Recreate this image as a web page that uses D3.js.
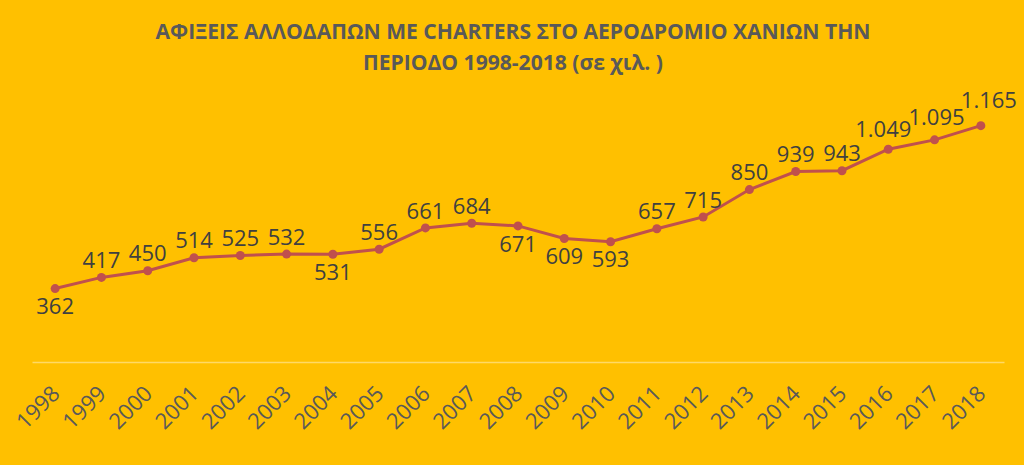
<!DOCTYPE html>
<html>
<head>
<meta charset="utf-8">
<script src="https://cdn.jsdelivr.net/npm/d3@7"></script>
<style>
html,body{margin:0;padding:0;background:#FFC000;}
svg{display:block;}
</style>
</head>
<body>
<svg id="chart" width="1024" height="465"></svg>
<script>
const years = ["1998","1999","2000","2001","2002","2003","2004","2005","2006","2007","2008","2009","2010","2011","2012","2013","2014","2015","2016","2017","2018"];
const arrivals = [362,417,450,514,525,532,531,556,661,684,671,609,593,657,715,850,939,943,1049,1095,1165];
const labelBelow = ["1998","2004","2008","2009","2010"];
const titleLines = ["ΑΦΙΞΕΙΣ ΑΛΛΟΔΑΠΩΝ ΜΕ CHARTERS ΣΤΟ ΑΕΡΟΔΡΟΜΙΟ ΧΑΝΙΩΝ ΤΗΝ","ΠΕΡΙΟΔΟ 1998-2018 (σε χιλ. )"];

const svg = d3.select("#chart");
const W = 1024, H = 465;
svg.append("rect").attr("width", W).attr("height", H).attr("fill", "#FFC000");

const x = d3.scaleBand().domain(years).range([32, 1004]).padding(0);
const y = d3.scaleLinear().domain([0, 1400]).range([362, 78]);
const cx = d => x(d) + x.bandwidth() / 2;

// title
const titleW = [715, 300];
const titleY = [39, 70];
svg.selectAll("text.title").data(titleLines).join("text")
  .attr("class", "title")
  .attr("x", 513)
  .attr("y", (d, i) => titleY[i])
  .attr("text-anchor", "middle")
  .attr("font-family", "'Open Sans', sans-serif")
  .attr("font-weight", "bold")
  .attr("font-size", 21)
  .attr("fill", "#595959")
  .attr("textLength", (d, i) => titleW[i])
  .attr("lengthAdjust", "spacingAndGlyphs")
  .text(d => d);

// axis
const xAxis = d3.axisBottom(x).tickSize(0).tickPadding(0);
const gx = svg.append("g").attr("transform", `translate(0,${y(0)})`).call(xAxis);
gx.select(".domain").attr("stroke", "#FFD966").attr("stroke-width", 1.5);
gx.selectAll(".tick text")
  .attr("font-family", "'Open Sans', sans-serif")
  .attr("font-size", 22)
  .attr("fill", "#595959")
  .attr("text-anchor", "end")
  .attr("dy", 0)
  .attr("y", 0)
  .attr("transform", "translate(6,33) rotate(-45)");

// line
const data = years.map((yr, i) => ({yr, v: arrivals[i]}));
const line = d3.line().x(d => cx(d.yr)).y(d => y(d.v));
svg.append("path").datum(data)
  .attr("d", line)
  .attr("fill", "none")
  .attr("stroke", "#C0504D")
  .attr("stroke-width", 3);

svg.selectAll("circle.pt").data(data).join("circle")
  .attr("class", "pt")
  .attr("cx", d => cx(d.yr))
  .attr("cy", d => y(d.v))
  .attr("r", 4.5)
  .attr("fill", "#C0504D");

const fmt = v => v >= 1000 ? d3.format(",")(v).replace(",", ".") : String(v);
// small nudges for crowded labels at the right end
const nudge = {"2016": [-5, -3], "2017": [2, -6], "2018": [8, -8]};
svg.selectAll("text.lbl").data(data).join("text")
  .attr("class", "lbl")
  .attr("x", d => cx(d.yr) + (nudge[d.yr] ? nudge[d.yr][0] : 0))
  .attr("y", d => y(d.v) + (labelBelow.includes(d.yr) ? 18 : -17) + (nudge[d.yr] ? nudge[d.yr][1] : 0))
  .attr("dy", "0.35em")
  .attr("text-anchor", "middle")
  .attr("font-family", "'Open Sans', sans-serif")
  .attr("font-size", 22)
  .attr("fill", "#404040")
  .text(d => fmt(d.v));
</script>
</body>
</html>
